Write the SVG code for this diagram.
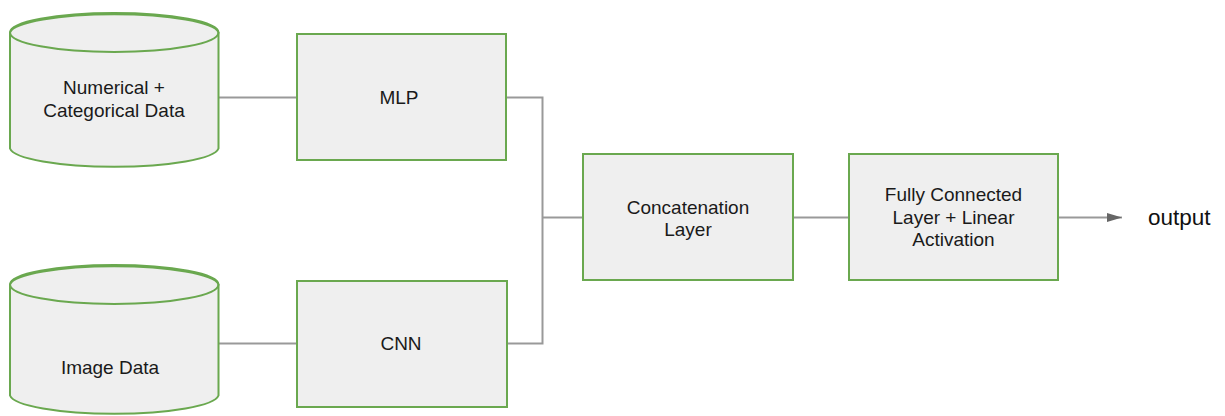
<svg xmlns="http://www.w3.org/2000/svg" width="1225" height="416" viewBox="0 0 1225 416">
  <defs>
    <style>
      .shape { fill: #efefef; stroke: #6aa84f; stroke-width: 2; }
      .rim { fill: none; stroke: #6aa84f; stroke-width: 2; }
      .conn { fill: none; stroke: #999999; stroke-width: 2; }
      .lbl { font-family: "Liberation Sans", Arial, sans-serif; font-size: 19px; fill: #1a1a1a; text-anchor: middle; }
      .out { font-family: "Liberation Sans", Arial, sans-serif; font-size: 22.5px; fill: #111111; }
    </style>
    <marker id="arrow" markerWidth="16" markerHeight="12" refX="15" refY="6" orient="auto" markerUnits="userSpaceOnUse">
      <path d="M0,1.5 L15,6 L0,10.5 Z" fill="#666666"/>
    </marker>
  </defs>
  <rect width="1225" height="416" fill="#ffffff"/>

  <g id="connectors">
    <path class="conn" d="M219,97.5 L297,97.5"/>
    <path class="conn" d="M219,343.5 L297,343.5"/>
    <path class="conn" d="M506,97.5 L542.5,97.5 L542.5,343.5 L507,343.5"/>
    <path class="conn" d="M542.5,217.5 L583,217.5"/>
    <path class="conn" d="M793,217.5 L849,217.5"/>
    <path class="conn" d="M1058,217.5 L1122,217.5" marker-end="url(#arrow)"/>
  </g>

  <g id="numerical-data">
    <path class="shape" d="M10,32.5 L10,148.5 A104.5,19.5 0 0 0 218.5,148.5 L218.5,32.5 A104.5,19.5 0 0 0 10,32.5 Z"/>
    <ellipse class="rim" cx="114.25" cy="32.5" rx="104.25" ry="19.5"/>
    <text class="lbl" x="114" y="94">Numerical +</text>
    <text class="lbl" x="114" y="117">Categorical Data</text>
  </g>

  <g id="image-data">
    <path class="shape" d="M10,284.5 L10,395.5 A104.5,19.5 0 0 0 218.5,395.5 L218.5,284.5 A104.5,19.5 0 0 0 10,284.5 Z"/>
    <ellipse class="rim" cx="114.25" cy="284.5" rx="104.25" ry="19.5"/>
    <text class="lbl" x="110" y="374">Image Data</text>
  </g>

  <g id="mlp">
    <rect class="shape" x="297" y="34" width="209" height="126"/>
    <text class="lbl" x="399" y="104">MLP</text>
  </g>

  <g id="cnn">
    <rect class="shape" x="297" y="281" width="210" height="126"/>
    <text class="lbl" x="401" y="350">CNN</text>
  </g>

  <g id="concatenation">
    <rect class="shape" x="583" y="154" width="210" height="126"/>
    <text class="lbl" x="688" y="214">Concatenation</text>
    <text class="lbl" x="688" y="236">Layer</text>
  </g>

  <g id="fully-connected">
    <rect class="shape" x="849" y="154" width="209" height="126"/>
    <text class="lbl" x="953.5" y="201">Fully Connected</text>
    <text class="lbl" x="953.5" y="224">Layer + Linear</text>
    <text class="lbl" x="953.5" y="246">Activation</text>
  </g>

  <g id="output">
    <text class="out" x="1148" y="225">output</text>
  </g>
</svg>
